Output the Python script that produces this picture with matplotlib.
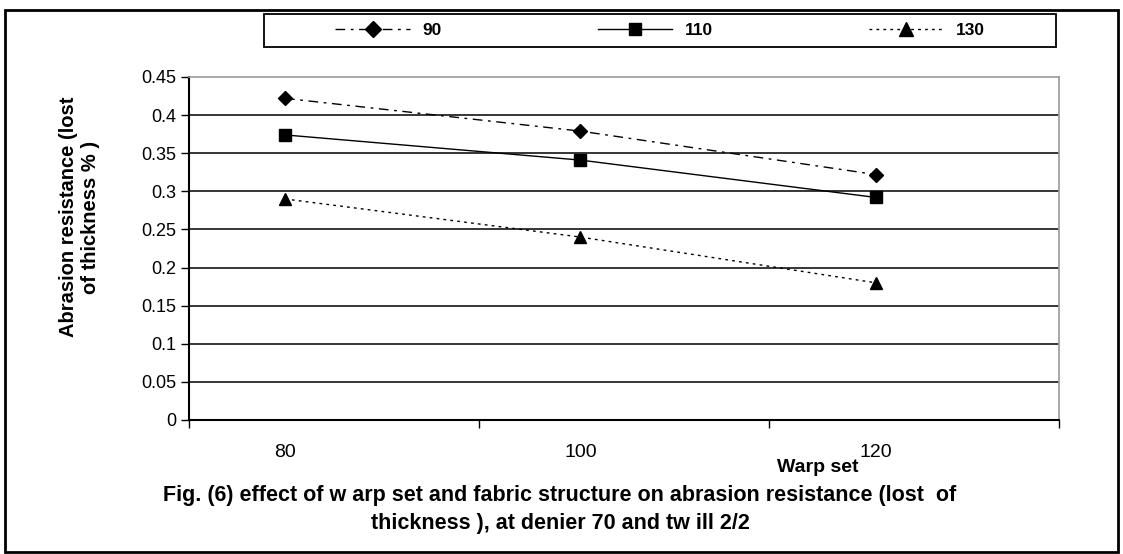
import numpy as np
import matplotlib.pyplot as plt
from matplotlib.patches import Rectangle

plt.rcParams['font.family'] = ['Liberation Sans', 'DejaVu Sans']

# data
warp_set = ['80', '100', '120']
s90 = [0.422, 0.379, 0.322]
s110 = [0.374, 0.341, 0.292]
s130 = [0.290, 0.240, 0.180]
series_names = ['90', '110', '130']
y_ticks = [0, 0.05, 0.1, 0.15, 0.2, 0.25, 0.3, 0.35, 0.4, 0.45]
y_tick_labels = ['0', '0.05', '0.1', '0.15', '0.2', '0.25', '0.3', '0.35', '0.4', '0.45']

W, H = 1123, 554
fig = plt.figure(figsize=(W / 100, H / 100), dpi=100)
ax = fig.add_axes([189 / W, 1 - 420 / H, (1059 - 189) / W, (420 - 77) / H])

x = np.arange(len(warp_set))

# grid lines (black), top border stays grey
for v in y_ticks[1:-1]:
    ax.axhline(v, color='black', linewidth=1.1, zorder=1)

l1, = ax.plot(x, s90, color='black', linewidth=1.0, marker='D', markersize=7,
              dashes=(7, 4, 2, 4), zorder=3)
l2, = ax.plot(x, s110, color='black', linewidth=1.0, marker='s', markersize=8,
              zorder=3)
l3, = ax.plot(x, s130, color='black', linewidth=1.0, marker='^', markersize=9,
              dashes=(2, 3), zorder=3)

xlo, xhi = -0.325, 2.62
ax.set_xlim(xlo, xhi)
ax.set_ylim(0, 0.45)

ax.set_yticks(y_ticks)
ax.set_yticklabels(y_tick_labels, fontsize=13)
ax.tick_params(axis='y', direction='out', length=6, width=1.0, pad=3)

# x tick marks between categories, labels at the category points
ax.set_xticks(np.linspace(xlo, xhi, 4))
ax.set_xticklabels([])
ax.tick_params(axis='x', direction='out', length=6, width=1.0)
ax.set_xticks(x, minor=True)
ax.set_xticklabels(warp_set, minor=True, fontsize=14)
ax.tick_params(axis='x', which='minor', length=0, pad=17)

for s in ['left', 'bottom']:
    ax.spines[s].set_color('black')
    ax.spines[s].set_linewidth(1.5)
for s in ['top', 'right']:
    ax.spines[s].set_color('#999999')
    ax.spines[s].set_linewidth(1.2)

fig.text(80 / W, 1 - 217 / H, 'Abrasion resistance (lost\nof thickness % )',
         fontsize=14.5, fontweight='bold', rotation=90, ha='center',
         va='center', multialignment='center', linespacing=1.2)

fig.text(818 / W, 1 - 467 / H, 'Warp set', fontsize=14, fontweight='bold',
         ha='center', va='center')
fig.text(560 / W, 1 - 496 / H,
         'Fig. (6) effect of w arp set and fabric structure on abrasion resistance (lost  of',
         fontsize=15.5, fontweight='bold', ha='center', va='center')
fig.text(560 / W, 1 - 523 / H, 'thickness ), at denier 70 and tw ill 2/2',
         fontsize=15.5, fontweight='bold', ha='center', va='center')

# legend
leg = fig.legend([l1, l2, l3], series_names, loc='center', ncol=3,
                 bbox_to_anchor=(660 / W, 1 - 30.5 / H), frameon=False,
                 prop={'weight': 'bold', 'size': 12.5}, handlelength=4.3,
                 handletextpad=0.7, columnspacing=9.0, markerscale=1.1)
fig.patches.append(Rectangle((264 / W, 1 - 47 / H), (1056 - 264) / W, 33 / H,
                             transform=fig.transFigure, fill=False,
                             edgecolor='black', linewidth=1.3))

# outer border
fig.patches.append(Rectangle((5 / W, 2 / H), (1118 - 5) / W, (548 - 6) / H,
                             transform=fig.transFigure, fill=False,
                             edgecolor='black', linewidth=2.0))

plt.savefig('out.png', dpi=100)
